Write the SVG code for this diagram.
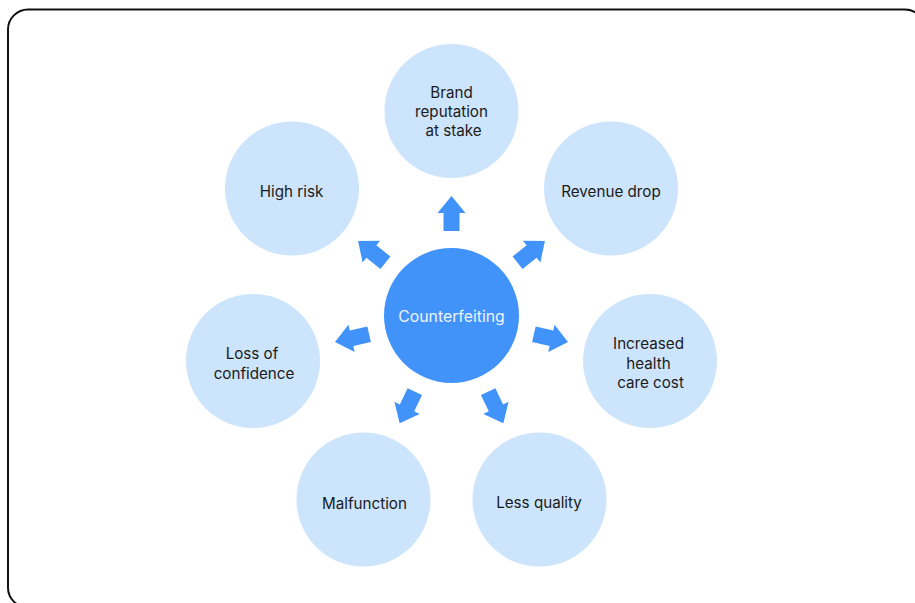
<svg xmlns="http://www.w3.org/2000/svg" xmlns:xlink="http://www.w3.org/1999/xlink" width="915" height="603" viewBox="0 0 915 603">
  <style>
    .bubble { fill: #cce4fc; }
    .hub { fill: #4193fa; }
    .lbl { font-family: Inter, "Liberation Sans", sans-serif; font-size: 15.2px; fill: #1b1b1b; text-anchor: middle; }
    .hub-lbl { font-family: Inter, "Liberation Sans", sans-serif; font-size: 15.8px; fill: #eef4ff; text-anchor: middle; }
    .arrow { fill: #4193fa; }
  </style>
  <defs>
    <!-- block arrow pointing along +x, offset from the hub centre -->
    <path id="blockArrow" d="M84.5,-8 L102.5,-8 L102.5,-14 L119.5,0 L102.5,14 L102.5,8 L84.5,8 Z"/>
  </defs>

  <rect x="0" y="0" width="915" height="603" fill="#ffffff"/>
  <!-- outer frame -->
  <rect x="8" y="9.5" width="917" height="598" rx="20" ry="20" fill="none" stroke="#111111" stroke-width="2"/>

  <g id="connectors" class="arrow">
    <use xlink:href="#blockArrow" transform="translate(451.5 315.5) rotate(-90)"/>
    <use xlink:href="#blockArrow" transform="translate(451.5 315.5) rotate(-38.57)"/>
    <use xlink:href="#blockArrow" transform="translate(451.5 315.5) rotate(12.86)"/>
    <use xlink:href="#blockArrow" transform="translate(451.5 315.5) rotate(64.29)"/>
    <use xlink:href="#blockArrow" transform="translate(451.5 315.5) rotate(115.71)"/>
    <use xlink:href="#blockArrow" transform="translate(451.5 315.5) rotate(167.14)"/>
    <use xlink:href="#blockArrow" transform="translate(451.5 315.5) rotate(218.57)"/>
  </g>

  <g id="hub">
    <circle class="hub" cx="451.5" cy="315.5" r="67.5"/>
    <text class="hub-lbl" x="451.5" y="321.5">Counterfeiting</text>
  </g>

  <g id="brand">
    <circle class="bubble" cx="451.5" cy="111" r="67"/>
    <text class="lbl" x="451.5" y="97.5">Brand</text>
    <text class="lbl" x="451.5" y="116.5">reputation</text>
    <text class="lbl" x="453.5" y="135.5">at stake</text>
  </g>

  <g id="revenue">
    <circle class="bubble" cx="611" cy="188.5" r="67"/>
    <text class="lbl" x="611" y="196.5">Revenue drop</text>
  </g>

  <g id="health">
    <circle class="bubble" cx="650" cy="361" r="67"/>
    <text class="lbl" x="648.5" y="348.5">Increased</text>
    <text class="lbl" x="648.5" y="368.5">health</text>
    <text class="lbl" x="650.5" y="388">care cost</text>
  </g>

  <g id="quality">
    <circle class="bubble" cx="539.5" cy="499.5" r="67"/>
    <text class="lbl" x="539" y="508">Less quality</text>
  </g>

  <g id="malfunction">
    <circle class="bubble" cx="363.5" cy="499.5" r="67"/>
    <text class="lbl" x="364.5" y="509">Malfunction</text>
  </g>

  <g id="confidence">
    <circle class="bubble" cx="253" cy="361" r="67"/>
    <text class="lbl" x="252" y="358.5">Loss of</text>
    <text class="lbl" x="254" y="378.5">confidence</text>
  </g>

  <g id="risk">
    <circle class="bubble" cx="292" cy="188.5" r="67"/>
    <text class="lbl" x="291.5" y="196.5">High risk</text>
  </g>
</svg>
